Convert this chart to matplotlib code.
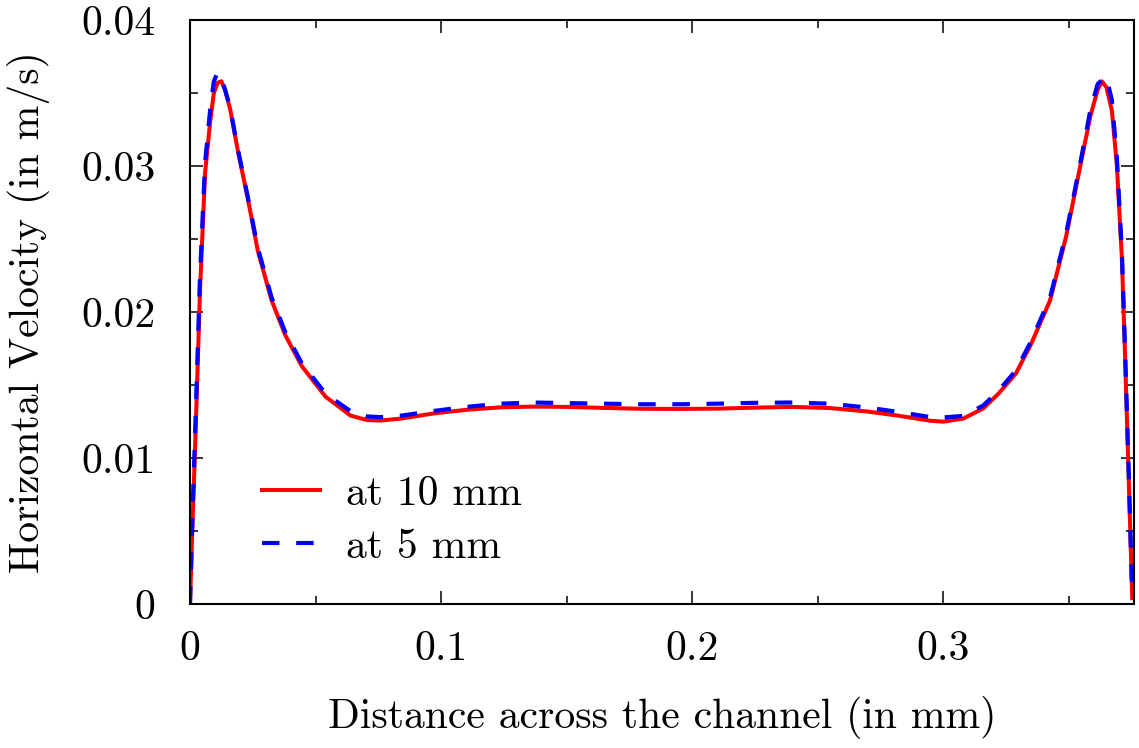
import matplotlib
matplotlib.use('Agg')
import matplotlib.pyplot as plt
from matplotlib.ticker import MultipleLocator

# distance across the channel (mm)
dist = [0, 0.001, 0.002, 0.003, 0.004, 0.006, 0.008, 0.0095, 0.011, 0.0125,
        0.014, 0.016, 0.019, 0.023, 0.027, 0.0325, 0.038, 0.0445, 0.054, 0.064,
        0.0705, 0.0757, 0.084, 0.097, 0.11, 0.1235, 0.137, 0.15, 0.165, 0.18,
        0.195, 0.21, 0.225, 0.24, 0.255, 0.27, 0.282, 0.295, 0.3, 0.308,
        0.316, 0.322, 0.329, 0.335, 0.3426, 0.349, 0.3546, 0.3586, 0.3615, 0.3632,
        0.365, 0.3672, 0.3692, 0.3712, 0.3725, 0.374, 0.3753]

# horizontal velocity at 10 mm (m/s)
vel_10mm = [0, 0.0055, 0.0105, 0.0160, 0.0215, 0.0295, 0.0330, 0.0350, 0.0357, 0.0358,
            0.0352, 0.0339, 0.0311, 0.0278, 0.0242, 0.0208, 0.0184, 0.0163, 0.0142, 0.0129,
            0.0126, 0.01256, 0.0127, 0.01305, 0.0133, 0.01347, 0.01352, 0.0135, 0.01343, 0.01337,
            0.01336, 0.01338, 0.01345, 0.0135, 0.01342, 0.01318, 0.0129, 0.01255, 0.01249, 0.0127,
            0.0134, 0.0144, 0.0158, 0.0178, 0.0208, 0.0252, 0.0300, 0.0334, 0.0352, 0.0358,
            0.0354, 0.0338, 0.0300, 0.0236, 0.0167, 0.0080, 0.0004]

# horizontal velocity at 5 mm (m/s)
vel_5mm = [0, 0.0060, 0.0115, 0.0170, 0.0225, 0.0302, 0.0338, 0.0358, 0.0364, 0.0360,
           0.0352, 0.0340, 0.0312, 0.0279, 0.0244, 0.0210, 0.0186, 0.0165, 0.0144, 0.0132,
           0.01285, 0.0128, 0.0129, 0.01322, 0.0135, 0.01372, 0.0138, 0.01376, 0.01372, 0.01368,
           0.01368, 0.01372, 0.01378, 0.0138, 0.01372, 0.01345, 0.01316, 0.0128, 0.01278, 0.01288,
           0.0136, 0.0146, 0.0160, 0.0180, 0.0210, 0.0254, 0.0302, 0.0338, 0.0356, 0.0359,
           0.0361, 0.0345, 0.0305, 0.0240, 0.0170, 0.0085, 0.0005]

plt.rcParams['font.family'] = 'cmr10'
plt.rcParams['mathtext.fontset'] = 'cm'
plt.rcParams['axes.formatter.use_mathtext'] = True
plt.rcParams['font.size'] = 30

fig = plt.figure(figsize=(11.39, 7.48), dpi=100)
ax = fig.add_axes([0.1668, 0.1925, 0.8288, 0.7808])

ax.plot(dist, vel_10mm, color='#ff0000', lw=2.9, label='at 10 mm')
ax.plot(dist, vel_5mm, color='#0000ff', lw=3.0, linestyle=(0, (4.2, 4.0)), label='at 5 mm')

ax.set_xlim(0, 0.376)
ax.set_ylim(0, 0.04)
ax.xaxis.set_major_locator(MultipleLocator(0.1))
ax.xaxis.set_minor_locator(MultipleLocator(0.05))
ax.yaxis.set_major_locator(MultipleLocator(0.01))
ax.yaxis.set_minor_locator(MultipleLocator(0.005))
ax.xaxis.set_major_formatter(plt.FuncFormatter(lambda v, p: '0' if abs(v) < 1e-9 else f'{v:g}'))
ax.yaxis.set_major_formatter(plt.FuncFormatter(lambda v, p: '0' if abs(v) < 1e-9 else f'{v:.2f}'))
ax.tick_params(which='both', direction='in', top=True, right=True, width=1.1)
ax.tick_params(which='major', length=9.4, pad=19)
ax.tick_params(which='minor', length=6)
ax.tick_params(axis='y', which='major', pad=25)
for s in ax.spines.values():
    s.set_linewidth(1.5)

ax.set_xlabel('Distance across the channel (in mm)', labelpad=20)
ax.set_ylabel('Horizontal Velocity (in m/s)', labelpad=22)

ax.legend(loc='lower left', bbox_to_anchor=(0.076, 0.065), frameon=False,
          borderpad=0, borderaxespad=0,
          handlelength=1.4, handletextpad=0.62, labelspacing=0.38)

fig.savefig('out.png', dpi=100)
